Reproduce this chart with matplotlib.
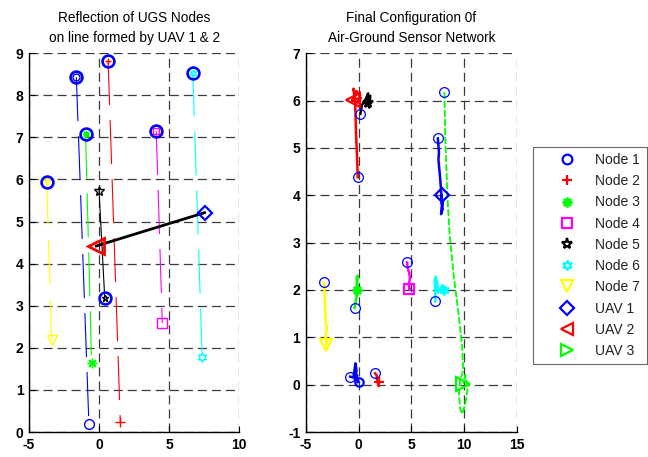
import matplotlib
matplotlib.use("Agg")
import matplotlib.pyplot as plt
from matplotlib.lines import Line2D

plt.rcParams['font.family'] = ['Liberation Sans', 'DejaVu Sans']
plt.rcParams['lines.scale_dashes'] = False
plt.rcParams['axes.unicode_minus'] = False

# ---- agents ----
names = ['Node 1', 'Node 2', 'Node 3', 'Node 4', 'Node 5', 'Node 6', 'Node 7',
         'UAV 1', 'UAV 2', 'UAV 3']
colors = ['#0000ff', '#ff0000', '#00ff00', '#ff00ff', '#000000', '#00ffff',
          '#ffff00', '#0000ff', '#ff0000', '#00ff00']
markers = ['o', '+', (8, 2, 0), 's', '*', (6, 1, 0), 'v', 'D', '<', '>']

# ---- left panel: UGS nodes and their reflections ----
node_orig_x = [-1.62, 0.65, -0.96, 4.09, 0.41, 6.70, -3.74]
node_orig_y = [8.43, 8.81, 7.07, 7.15, 3.18, 8.54, 5.95]
node_refl_x = [-0.72, 1.52, -0.53, 4.52, 0.00, 7.37, -3.38]
node_refl_y = [0.18, 0.24, 1.64, 2.59, 5.73, 1.78, 2.18]
uav_left_x = [7.54, -0.19]
uav_left_y = [5.21, 4.42]

# ---- right panel: trajectories ----
traj_x = {
    'Node 1': [-0.80, -0.50, -0.40, -0.30, -0.20, -0.35, -0.15, -0.10, 0.00],
    'Node 2': [1.55, 1.70, 1.75, 1.85, 1.90],
    'Node 3': [-0.38, -0.30, -0.20, -0.25, -0.15, -0.20, -0.10, -0.15, -0.12],
    'Node 4': [4.58, 4.65, 4.80, 4.85, 4.75, 4.85, 4.80],
    'Node 5': [0.16, 0.30, 0.60, 0.90, 0.70, 1.10, 1.00, 0.80, 0.90],
    'Node 6': [7.26, 7.25, 7.20, 7.30, 7.45, 7.50, 7.70, 7.90, 8.20, 8.00, 8.05],
    'Node 7': [-3.28, -3.20, -3.15, -3.10, -3.00, -3.15, -3.00, -3.08],
    'UAV 1': [7.50, 7.60, 7.55, 7.70, 7.80, 7.90, 7.80, 7.95, 7.85, 7.90, 7.85],
    'UAV 2': [-0.09, -0.15, -0.25, -0.30, -0.35, -0.50, -0.30, -0.60, -0.20,
              0.10, -0.10, 0.20, -0.50],
    'UAV 3': [8.12, 8.20, 8.40, 8.60, 9.00, 9.50, 9.80, 9.90, 9.60, 9.50, 9.60,
              9.80, 10.10, 10.30, 10.10, 9.90],
}
traj_y = {
    'Node 1': [0.17, 0.15, 0.30, 0.45, 0.30, 0.10, 0.20, 0.05, 0.06],
    'Node 2': [0.24, 0.20, 0.10, 0.00, 0.06],
    'Node 3': [1.62, 1.75, 1.85, 2.00, 2.10, 2.25, 2.30, 2.10, 2.00],
    'Node 4': [2.58, 2.45, 2.35, 2.25, 2.10, 2.00, 2.03],
    'Node 5': [5.72, 5.90, 6.00, 6.15, 5.90, 6.10, 5.85, 6.05, 5.95],
    'Node 6': [1.76, 1.95, 2.20, 2.28, 2.15, 1.95, 2.00, 2.10, 2.00, 1.95, 2.00],
    'Node 7': [2.16, 1.80, 1.50, 1.30, 1.20, 1.00, 0.95, 0.83],
    'UAV 1': [5.20, 4.90, 4.75, 4.40, 4.10, 3.85, 3.60, 3.70, 4.00, 3.80, 4.00],
    'UAV 2': [4.38, 4.80, 5.30, 5.70, 6.00, 6.25, 6.10, 6.00, 6.20, 6.10, 5.95,
              6.05, 6.02],
    'UAV 3': [6.18, 5.20, 4.00, 3.20, 2.30, 1.40, 0.80, 0.30, 0.10, -0.20, -0.50,
              -0.62, -0.40, -0.10, 0.20, 0.02],
}

FS = 10
TITLE_FS = 9.8
grid_kw = dict(color='#3a3a3a', linewidth=0.9, linestyle=(0, (6.5, 3.6)))

fig = plt.figure(figsize=(6.48, 4.57), dpi=100)
axL = fig.add_axes([0.0448, 0.0547, 0.324, 0.829])
axR = fig.add_axes([0.472, 0.0547, 0.326, 0.829])


def style_axes(ax, xlim, ylim, xticks, yticks):
    ax.set_xlim(*xlim)
    ax.set_ylim(*ylim)
    ax.set_xticks(xticks)
    ax.set_yticks(yticks)
    ax.grid(True, **grid_kw)
    ax.set_axisbelow(True)
    for s in ('top', 'right'):
        ax.spines[s].set_visible(False)
    for s in ('left', 'bottom'):
        ax.spines[s].set_linewidth(1.0)
        ax.spines[s].set_color('black')
    ax.tick_params(direction='in', length=4, width=0.8, labelsize=FS,
                   colors='black', pad=4)
    for lab in ax.get_xticklabels() + ax.get_yticklabels():
        lab.set_fontweight('bold')


# left panel
style_axes(axL, (-5, 10), (0, 9), range(-5, 11, 5), range(0, 10))
axL.set_title('Reflection of UGS Nodes\non line formed by UAV 1 & 2',
              fontsize=TITLE_FS, pad=8, linespacing=1.55)
for i in range(7):
    ls = '-' if names[i] == 'Node 5' else (0, (31.7, 10.8))
    axL.plot([node_orig_x[i], node_refl_x[i]], [node_orig_y[i], node_refl_y[i]],
             color=colors[i], lw=0.8, linestyle=ls, zorder=2)
axL.plot(uav_left_x, uav_left_y, color='black', lw=2.0, zorder=3)
for i in range(7):
    axL.plot(node_orig_x[i], node_orig_y[i], marker=markers[i], ms=5,
             color=colors[i], mfc='none', mew=1.0, zorder=4)
    axL.plot(node_orig_x[i], node_orig_y[i], marker='o', ms=8.5,
             color='#0000ff', mfc='none', mew=1.9, zorder=5)
    axL.plot(node_refl_x[i], node_refl_y[i], marker=markers[i], ms=7,
             color=colors[i], mfc='none', mew=1.0, zorder=5)
axL.plot(uav_left_x[0], uav_left_y[0], marker='D', ms=7.5, color=colors[7],
         mfc='none', mew=1.6, zorder=6)
axL.plot(uav_left_x[1], uav_left_y[1], marker='<', ms=11, color=colors[8],
         mfc='none', mew=2.0, zorder=6)

# right panel
style_axes(axR, (-5, 15), (-1, 7), range(-5, 16, 5), range(-1, 8))
axR.set_title('Final Configuration 0f\nAir-Ground Sensor Network',
              fontsize=TITLE_FS, pad=8, linespacing=1.55)
final_ms = [6, 7, 7, 7, 8, 7, 8, 7.5, 10, 10]
for i, n in enumerate(names):
    xs, ys = traj_x[n], traj_y[n]
    ls = (0, (5, 1.5)) if n == 'UAV 3' else '-'
    lw = 1.3 if n == 'UAV 3' else 1.8
    axR.plot(xs, ys, color=colors[i], lw=lw, linestyle=ls, zorder=3)
    axR.plot(xs[0], ys[0], marker='o', ms=7, color='#0000ff', mfc='none',
             mew=0.9, zorder=5)
    axR.plot(xs[-1], ys[-1], marker=markers[i], ms=final_ms[i], color=colors[i],
             mfc='none', mew=1.6, zorder=6)

# legend
legend_ms = [7, 7, 7, 7, 8, 7, 8, 7, 9, 9]
handles = [Line2D([], [], linestyle='none', marker=markers[i], color=colors[i],
                  mfc='none', mew=1.6, ms=legend_ms[i])
           for i in range(len(names))]
leg = fig.legend(handles, names, loc='upper left',
                 bbox_to_anchor=(0.8225, 0.679), fontsize=FS,
                 frameon=True, fancybox=False, edgecolor='#444444',
                 borderpad=0.45, labelspacing=0.52, handlelength=4.0,
                 handletextpad=0.05, borderaxespad=0)
leg.get_frame().set_linewidth(0.8)
for t in leg.get_texts():
    t.set_color('#222222')

fig.savefig('out.png', dpi=100)
